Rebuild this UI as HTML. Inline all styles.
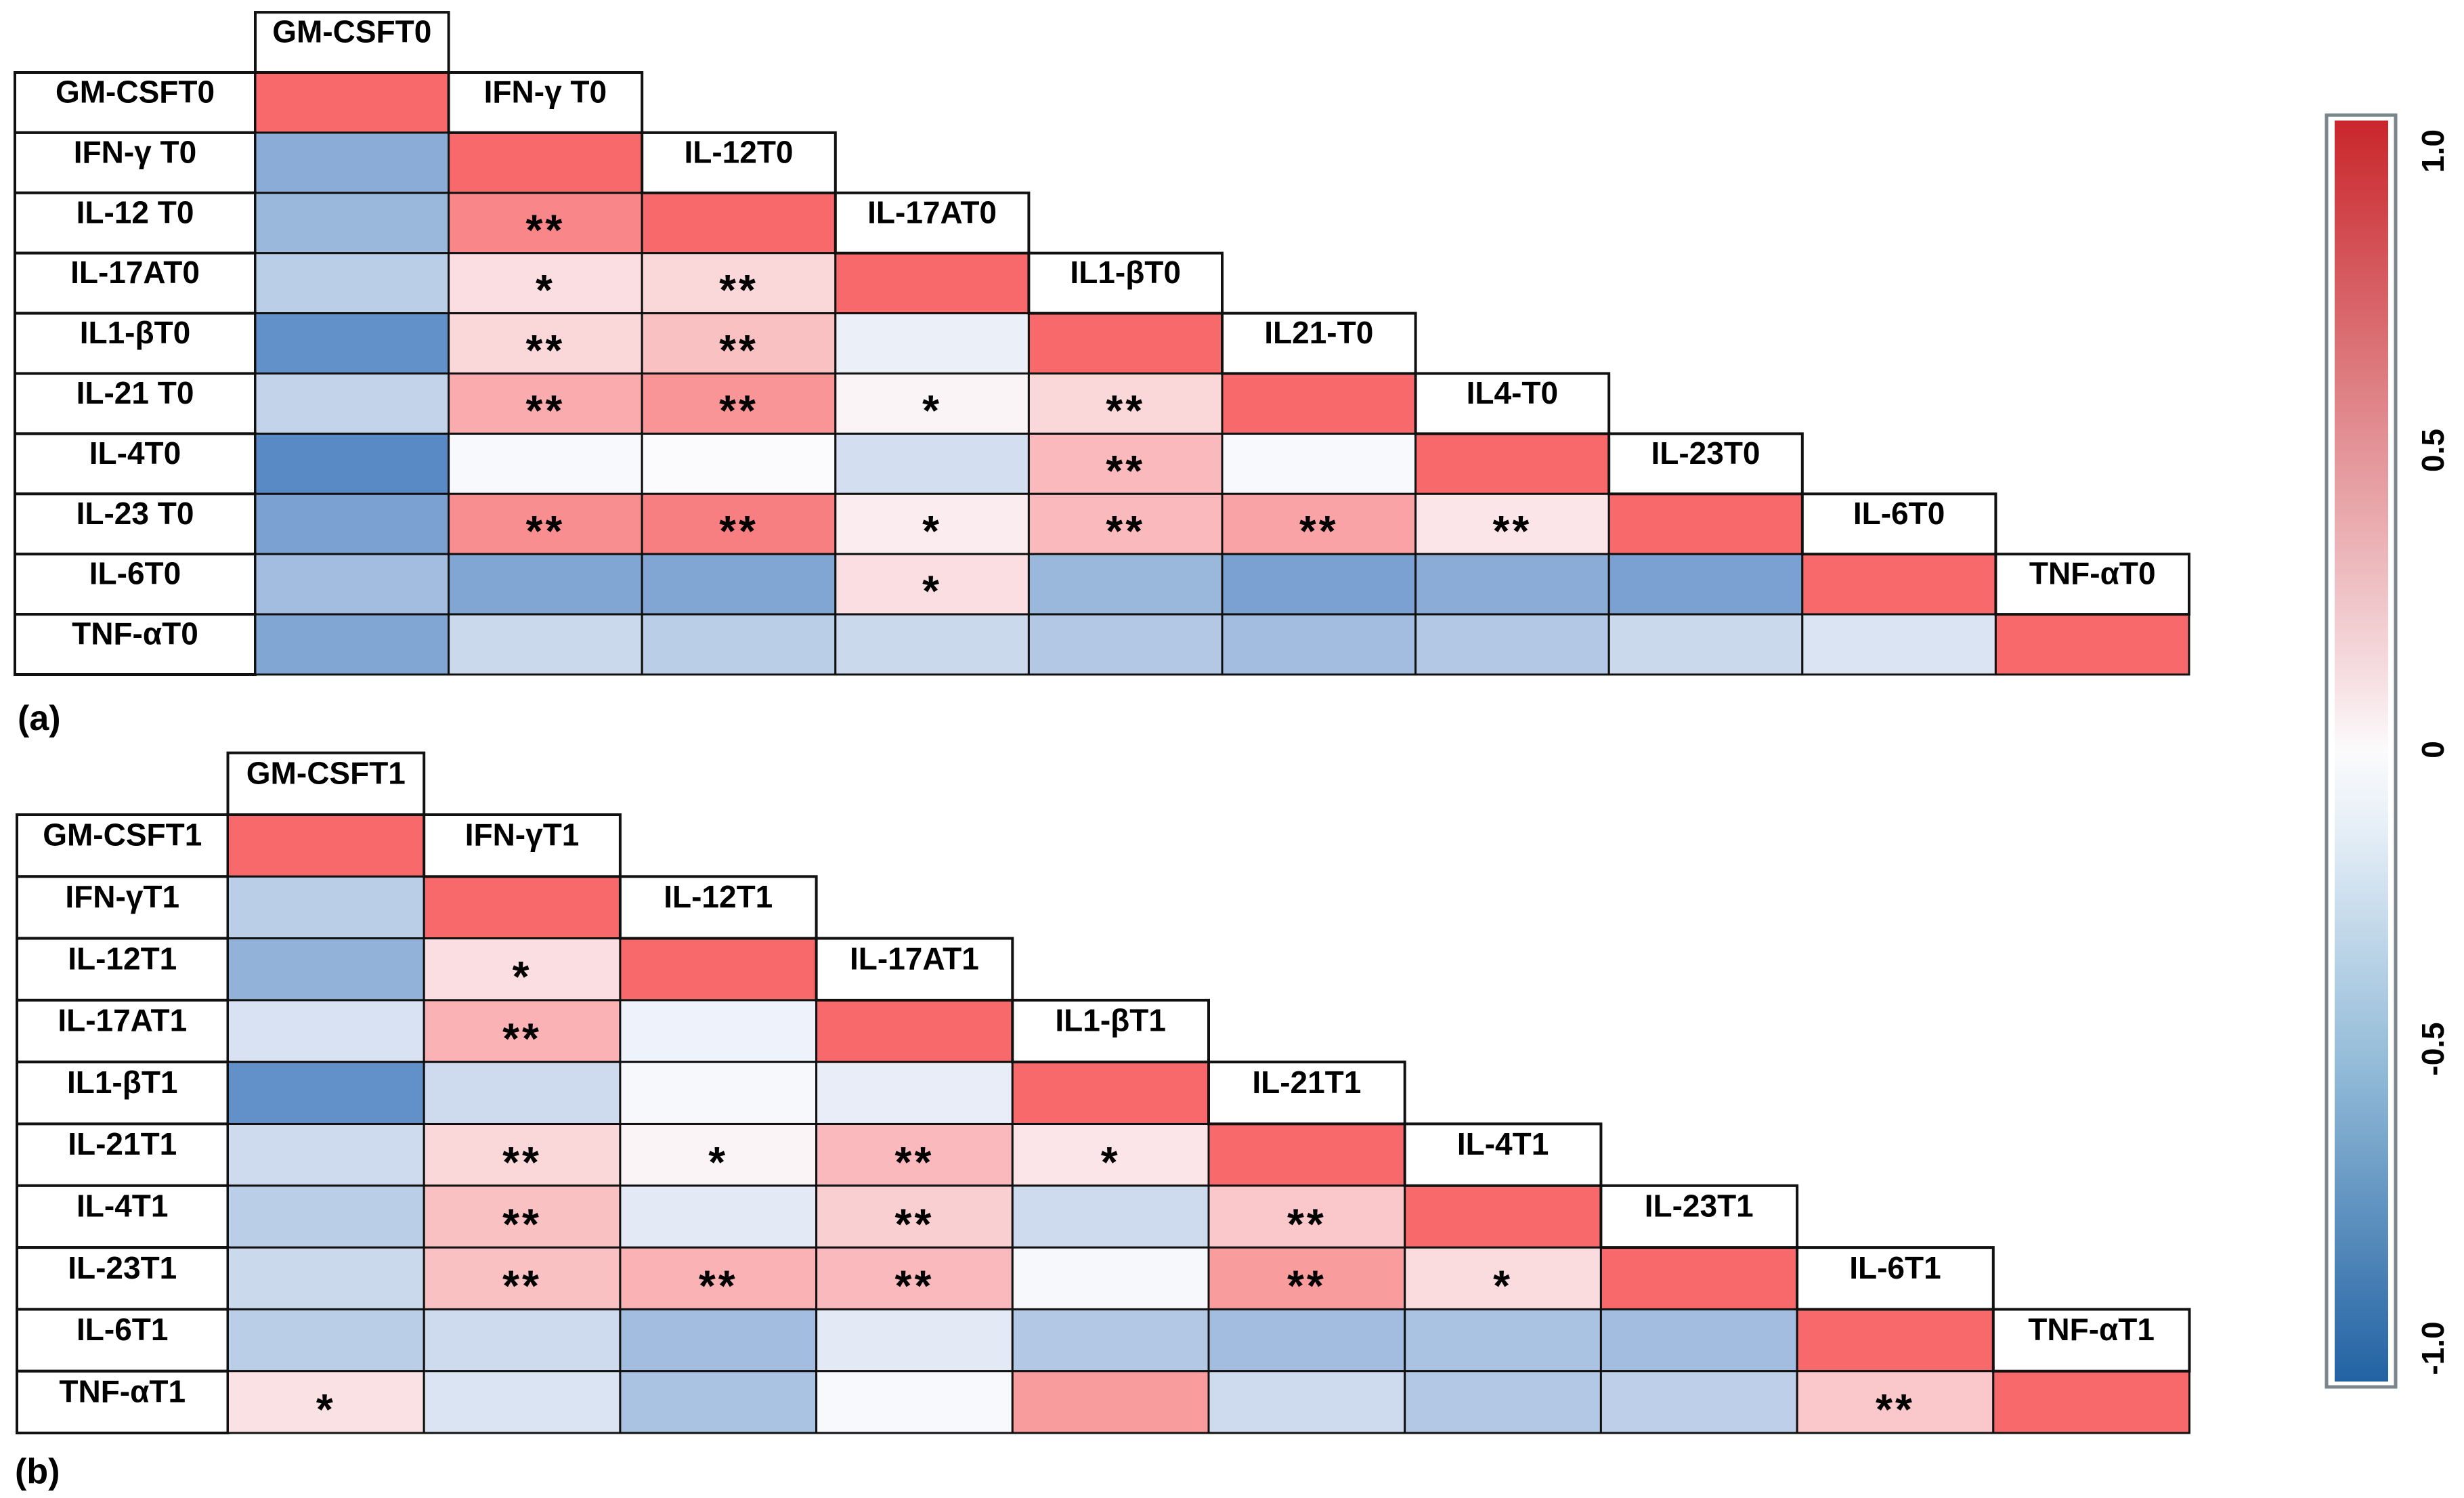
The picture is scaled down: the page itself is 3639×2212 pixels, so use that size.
<!DOCTYPE html>
<html><head><meta charset="utf-8">
<style>
html,body{margin:0;padding:0;background:#fff;}
svg{display:block;}
text{font-family:"Liberation Sans",Arial,sans-serif;}
</style></head>
<body>
<svg id="chart" width="3639" height="2212" viewBox="0 0 3639 2212" xmlns="http://www.w3.org/2000/svg">
<defs>
<linearGradient id="cbgrad" x1="0" y1="0" x2="0" y2="1">
<stop offset="0" stop-color="#c9262b"/>
<stop offset="0.25" stop-color="#e28f93"/>
<stop offset="0.45" stop-color="#f7e2e5"/>
<stop offset="0.5" stop-color="#fbfbfc"/>
<stop offset="0.56" stop-color="#e6eff7"/>
<stop offset="0.75" stop-color="#93bbd8"/>
<stop offset="1" stop-color="#2262a3"/>
</linearGradient>
</defs>
<g id="panelA"></g>
<g id="panelB"></g>
<text x="26" y="1078" font-size="52" font-weight="bold">(a)</text>
<text x="22" y="2190" font-size="52" font-weight="bold">(b)</text>
<g>
<rect x="3436" y="170" width="102" height="1878" fill="#fff" stroke="#7a858c" stroke-width="5"/>
<rect x="3448" y="178" width="79" height="1862" fill="url(#cbgrad)"/>
<g id="cbTicks"></g>
</g>
</svg>
<script>
const labelsA = ["GM-CSFT0","IFN-\u03b3 T0","IL-12 T0","IL-17AT0","IL1-\u03b2T0","IL-21 T0","IL-4T0","IL-23 T0","IL-6T0","TNF-\u03b1T0"];
const headersA = ["GM-CSFT0","IFN-\u03b3 T0","IL-12T0","IL-17AT0","IL1-\u03b2T0","IL21-T0","IL4-T0","IL-23T0","IL-6T0","TNF-\u03b1T0"];
const valuesA = [
 [],
 [-0.7],
 [-0.6, 0.8],
 [-0.4, 0.2, 0.25],
 [-0.95, 0.25, 0.4, -0.1],
 [-0.35, 0.55, 0.7, 0.05, 0.25],
 [-1.0, -0.02, 0.0, -0.25, 0.45, -0.02],
 [-0.8, 0.75, 0.85, 0.1, 0.45, 0.6, 0.15],
 [-0.55, -0.75, -0.75, 0.2, -0.6, -0.8, -0.7, -0.8],
 [-0.75, -0.3, -0.4, -0.3, -0.45, -0.55, -0.45, -0.3, -0.2]
];
const starsA = [
 [],
 [""],
 ["","**"],
 ["","*","**"],
 ["","**","**",""],
 ["","**","**","*","**"],
 ["","","","","**",""],
 ["","**","**","*","**","**","**"],
 ["","","","*","","","",""],
 ["","","","","","","","",""]
];
const labelsB = ["GM-CSFT1","IFN-\u03b3T1","IL-12T1","IL-17AT1","IL1-\u03b2T1","IL-21T1","IL-4T1","IL-23T1","IL-6T1","TNF-\u03b1T1"];
const headersB = ["GM-CSFT1","IFN-\u03b3T1","IL-12T1","IL-17AT1","IL1-\u03b2T1","IL-21T1","IL-4T1","IL-23T1","IL-6T1","TNF-\u03b1T1"];
const valuesB = [
 [],
 [-0.4],
 [-0.65, 0.2],
 [-0.22, 0.5, -0.08],
 [-0.95, -0.28, -0.03, -0.12],
 [-0.28, 0.25, 0.05, 0.45, 0.15],
 [-0.4, 0.4, -0.15, 0.3, -0.28, 0.35],
 [-0.3, 0.4, 0.5, 0.45, -0.03, 0.65, 0.22],
 [-0.4, -0.28, -0.55, -0.15, -0.45, -0.55, -0.5, -0.55],
 [0.18, -0.2, -0.5, -0.02, 0.65, -0.28, -0.45, -0.38, 0.35]
];
const starsB = [
 [],
 [""],
 ["","*"],
 ["","**",""],
 ["","","",""],
 ["","**","*","**","*"],
 ["","**","","**","","**"],
 ["","**","**","**","","**","*"],
 ["","","","","","","",""],
 ["*","","","","","","","","**"]
];
const cbTicks = ["1.0","0.5","0","-0.5","-1.0"];
const cbTickVals = [1.0, 0.5, 0, -0.5, -1.0];

const NS = "http://www.w3.org/2000/svg";
function mix(a,b,t){return Math.round(a+(b-a)*t);}
function color(v){
  const w=[251,251,254], r=[248,105,107], b=[90,138,198];
  const c = v>=0 ? r : b; const t=Math.min(1,Math.abs(v));
  return "rgb("+mix(w[0],c[0],t)+","+mix(w[1],c[1],t)+","+mix(w[2],c[2],t)+")";
}
function mk(tag, attrs, parent){
  const e=document.createElementNS(NS,tag);
  for(const k in attrs) e.setAttribute(k,attrs[k]);
  parent.appendChild(e); return e;
}
function drawPanel(g, labels, headers, values, stars, P){
  const xS = j => P.x0 + j*P.cw;
  const yS = i => P.y0 + i*P.rh;
  const n = labels.length;
  for(let i=0;i<n;i++){
    const lb = mk("rect",{x:P.lx,y:yS(i),width:P.x0-P.lx,height:P.rh,fill:"#fff",stroke:"#111","stroke-width":4},g);
    
    
    const lt = mk("text",{x:(P.lx+P.x0)/2,y:yS(i)+P.rh*0.5,"text-anchor":"middle","font-size":P.fs,"font-weight":"bold"},g);
    lt.textContent=labels[i];
    
    
    for(let j=0;j<=i;j++){
      const v = (j===i)?1:values[i][j];
      const c = mk("rect",{x:xS(j),y:yS(i),width:P.cw,height:P.rh,fill:color(v),stroke:"#111","stroke-width":3},g);
      
      
      const s = (j===i)?"":stars[i][j];
      if(s){
        const st = mk("text",{x:xS(j)+P.cw/2,y:yS(i)+P.rh*0.86,"text-anchor":"middle","font-size":64,"font-weight":"bold","letter-spacing":"4"},g);
        st.textContent=s;
        
        
      }
    }
    const hb = mk("rect",{x:xS(i),y:yS(i-1),width:P.cw,height:P.rh,fill:"#fff",stroke:"#111","stroke-width":4},g);
    
    
    const ht = mk("text",{x:xS(i)+P.cw/2,y:yS(i-1)+P.rh*0.5,"text-anchor":"middle","font-size":P.fs,"font-weight":"bold"},g);
    ht.textContent=headers[i];
    
    
  }
}
drawPanel(document.getElementById("panelA"), labelsA, headersA, valuesA, starsA,
  {lx:22, x0:377, cw:285.6, y0:107, rh:88.9, fs:46});
drawPanel(document.getElementById("panelB"), labelsB, headersB, valuesB, starsB,
  {lx:25, x0:336.5, cw:289.7, y0:1203, rh:91.3, fs:46});

const cbY = v => 223 + (1 - v) * (1991 - 223) / 2;
const tg = document.getElementById("cbTicks");
for(let k=0;k<cbTicks.length;k++){
  const y = cbY(cbTickVals[k]);
  const t = mk("text",{x:0,y:0,"text-anchor":"middle","font-size":46,"font-weight":"bold",transform:"translate(3609,"+y+") rotate(-90)"},tg);
  t.textContent=cbTicks[k];
  
  
}
</script>
</body></html>
